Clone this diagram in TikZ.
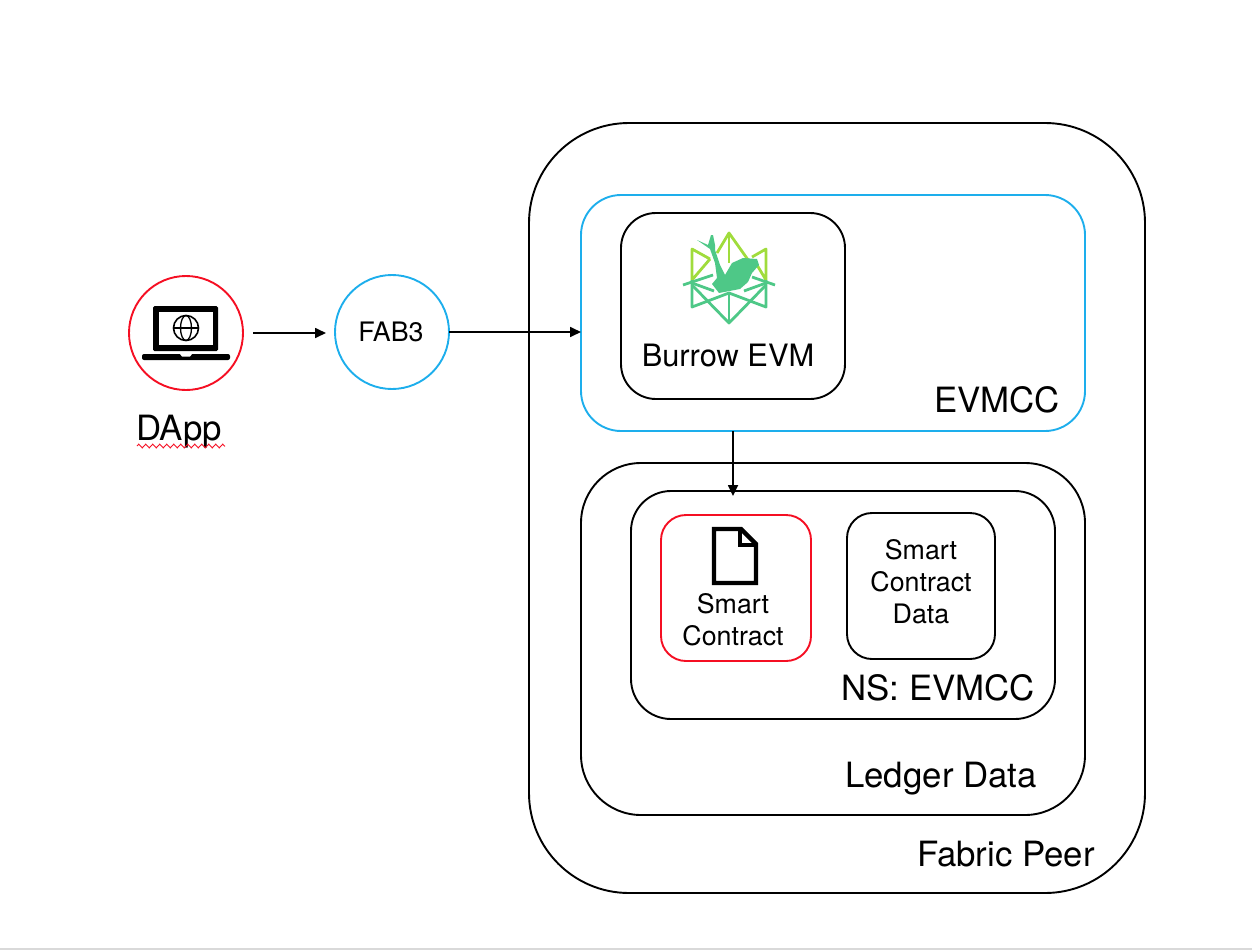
\documentclass[tikz,border=0pt]{standalone}
\usepackage{fontspec}
\setmainfont{TeX Gyre Heros}
\usepackage{tikz}
\usetikzlibrary{arrows.meta, decorations.pathmorphing}
\definecolor{fabblue}{RGB}{29,174,236}
\definecolor{dappred}{RGB}{245,15,35}
\definecolor{logolime}{RGB}{160,220,60}
\definecolor{logogreen}{RGB}{78,200,135}
\definecolor{pagerule}{RGB}{217,217,217}

\begin{document}
\begin{tikzpicture}[x=1pt, y=-1pt]
        % Define styles
        \tikzstyle{panel} = [rectangle, draw=black, line width=1.9pt, inner sep=0pt, outer sep=0pt]
        \tikzstyle{hub} = [circle, line width=1.9pt, inner sep=0pt, outer sep=0pt, minimum size=114pt]
        \tikzstyle{arrow} = [-{Triangle[length=11pt, width=10pt]}, line width=1.7pt]
        \tikzstyle{big} = [font=\fontsize{34.8}{38}\selectfont, inner sep=0pt]
        \tikzstyle{mid} = [font=\fontsize{30.8}{34}\selectfont, inner sep=0pt]
        \tikzstyle{small} = [font=\fontsize{26.8}{32}\selectfont, inner sep=0pt, align=center]
        \tikzstyle{limeline} = [draw=logolime, line width=2.8pt, line join=round]
        \tikzstyle{greenline} = [draw=logogreen, line width=2.8pt, line join=round]

        \useasboundingbox (0, 0) rectangle (1252, 950);
        \fill[pagerule] (0, 948) rectangle (1252, 950);

        % Nested boxes
        \node[panel, rounded corners=100pt, minimum width=616pt, minimum height=770pt] (peer) at (837, 508) {};
        \node[panel, draw=fabblue, rounded corners=40pt, minimum width=504pt, minimum height=236pt] (evmcc) at (833, 313) {};
        \node[panel, rounded corners=35pt, minimum width=224pt, minimum height=186pt] (burrow) at (733, 306) {};
        \node[panel, rounded corners=60pt, minimum width=504pt, minimum height=352pt] (ledger) at (833, 639) {};
        \node[panel, rounded corners=40pt, minimum width=424pt, minimum height=228pt] (ns) at (843, 605) {};
        \node[panel, draw=dappred, rounded corners=25pt, minimum width=150pt, minimum height=146pt] (contract) at (736, 588) {};
        \node[panel, rounded corners=25pt, minimum width=148pt, minimum height=146pt] (contractdata) at (921, 586) {};

        % Circles
        \node[hub, draw=dappred] (dapp) at (186, 333) {};
        \node[hub, draw=fabblue] (fab) at (392, 332) {};

        % Labels
        \node[big] (dapplabel) at (179, 432) {DApp};
        \node[small] (fablabel) at (391, 332) {FAB3};
        \node[mid] (burrowlabel) at (728, 355) {Burrow EVM};
        \node[big] (evmcclabel) at (997, 400) {EVMCC};
        \node[small] (contractlabel) at (733, 620) {Smart\\Contract};
        \node[small] (datalabel) at (921, 582) {Smart\\Contract\\Data};
        \node[big] (nslabel) at (938, 688) {NS: EVMCC};
        \node[big] (ledgerlabel) at (941, 779) {Ledger Data};
        \node[big] (peerlabel) at (1006, 854) {Fabric Peer};

        % Connections
        \coordinate (contracttop) at (733, 496);
        \draw[arrow, shorten <=10pt, shorten >=9pt] (dapp.east) -- (dapp.east -| fab.west);
        \draw[arrow] (fab.east) -- (evmcc.west |- fab.east);
        \draw[arrow] (evmcc.south -| contracttop) -- (contracttop);

        % Spell-check underline
        \draw[dappred, line width=1pt, decorate, decoration={zigzag, segment length=7pt, amplitude=1.8pt}] (137, 446) -- (225, 446);

        % Laptop icon
        \fill[black, rounded corners=1.5pt] (153, 306) rectangle (218, 351);
        \fill[white] (159, 312) rectangle (213, 345);
        \fill[black, rounded corners=2pt] (142, 354) -- (230, 354) -- (230, 360) -- (142, 360) -- cycle;
        \fill[white] (180, 354) -- (192, 354) -- (190, 356.5) -- (182, 356.5) -- cycle;
        \draw[line width=1.6pt] (186, 328) circle (12.5);
        \draw[line width=1.3pt] (186, 328) ellipse (5.5 and 12.5);
        \draw[line width=1.3pt] (173.5, 328) -- (198.5, 328);

        % Document icon
        \draw[line width=4.4pt, line join=miter] (714, 529) -- (741, 529) -- (756, 544) -- (756, 583) -- (714, 583) -- cycle;
        \draw[line width=4pt] (739.5, 529) -- (739.5, 545) -- (756, 545);

        % Burrow logo
        \draw[limeline] (717, 253) -- (729, 233) -- (751, 264);
        \draw[limeline] (729, 233) -- (729, 263);
        \draw[limeline] (752, 257) -- (766, 249) -- (766, 280) -- (754, 260);
        \draw[limeline] (710, 259) -- (692, 249) -- (692, 280) -- (710, 259);
        \draw[greenline] (683, 285) -- (713, 275);
        \draw[greenline] (775, 285) -- (752, 277);
        \draw[greenline] (692, 280) -- (692, 307) -- (729, 293) -- (766, 307) -- (766, 280);
        \draw[greenline] (692, 285) -- (729, 323) -- (766, 285);
        \draw[greenline] (729, 293) -- (729, 323);
        \draw[greenline] (692, 283) -- (714, 291);
        \draw[greenline] (766, 283) -- (744, 291);
        \fill[logogreen] (697, 240) -- (708, 245) -- (711, 235) -- (713, 235) -- (715, 245) -- (715, 250)
            -- (720, 265) -- (725, 275) -- (732, 263) -- (743, 258) -- (757, 259) -- (759, 265)
            -- (752, 273) -- (748, 282) -- (740, 289) -- (719, 293) -- (712, 284) -- (717, 278)
            -- (715, 263) -- (710, 249) -- cycle;

    \end{tikzpicture}
\end{document}
